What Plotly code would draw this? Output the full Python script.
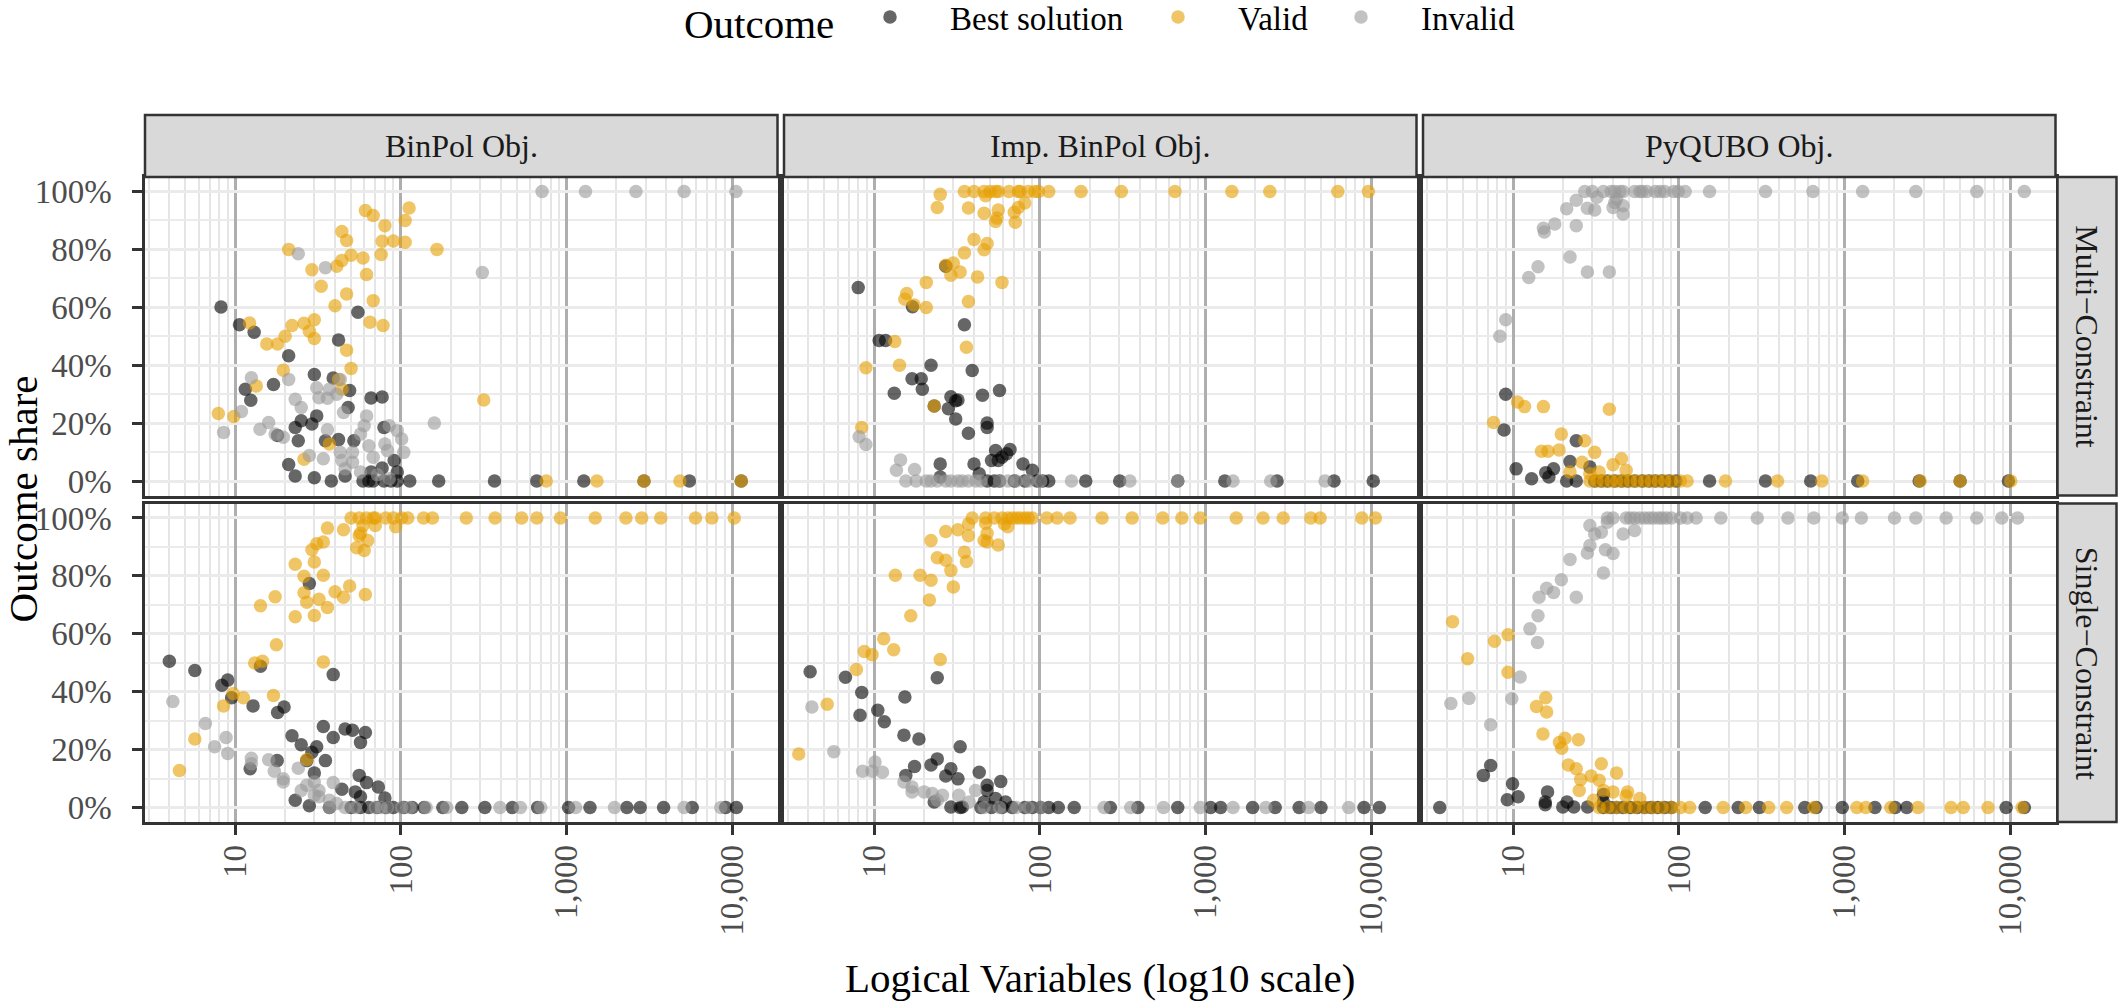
import plotly.graph_objects as go

# ---------------- data ----------------
outcomes = ["Best solution", "Valid", "Invalid"]
objectives = ["BinPol Obj.", "Imp. BinPol Obj.", "PyQUBO Obj."]
constraints = ["Multi−Constraint", "Single−Constraint"]

x_tick_vals = [10, 100, 1000, 10000]
x_tick_text = ["10", "100", "1,000", "10,000"]
x_minor_vals = [2, 3, 4, 5, 6, 7, 8, 9, 20, 30, 40, 50, 60, 70, 80, 90,
                200, 300, 400, 500, 600, 700, 800, 900,
                2000, 3000, 4000, 5000, 6000, 7000, 8000, 9000]
y_tick_vals = [0, 20, 40, 60, 80, 100]
y_tick_text = ["0%", "20%", "40%", "60%", "80%", "100%"]
y_minor_vals = [10, 30, 50, 70, 90]

# BinPol Obj. / Multi-Constraint
binpol_multi_best_x = [8.2, 10.6, 13, 55, 42, 21, 30, 39, 17, 11.5, 49, 12.4, 66, 77, 48, 31, 25, 23, 29, 18,
                       24, 79, 52, 42, 35, 21, 91, 77, 23, 30, 38, 46, 59, 64, 68, 79, 87, 95, 113, 66,
                       95, 169, 367, 660, 1270, 2930, 5510, 11330]
binpol_multi_best_y = [60.1, 54.0, 51.4, 58.3, 48.7, 43.3, 36.8, 35.6, 33.3, 31.7, 31.3, 27.9, 28.7, 29.0, 25.4,
                       22.5, 20.8, 18.5, 19.7, 15.7, 13.9, 18.5, 13.9, 14.3, 13.9, 5.7, 7.1, 4.5, 1.7, 1.1,
                       0, 1.7, 0, 0, 0, 0, 0, 0, 0, 3.1, 3.1, 0, 0, 0, 0, 0, 0, 0]
binpol_multi_valid_x = [61, 68, 112, 80, 106, 44, 47, 77, 90, 106, 21, 165, 50, 59, 76, 44, 41, 29, 62, 33,
                        47, 68, 40, 12.2, 22, 26, 30, 65, 78, 28, 20, 30, 15.5, 18, 47, 50, 19.5, 13.4, 42, 44,
                        316, 7.9, 9.8, 37, 26, 753, 1524, 2930, 4830, 11330]
binpol_multi_valid_y = [93.4, 91.7, 94.3, 88.2, 90.0, 86.2, 83.1, 82.8, 82.9, 82.5, 80.0, 80.0, 78.0, 77.0, 78.2,
                        76.2, 74.2, 73.0, 71.3, 67.3, 64.6, 62.3, 60.5, 54.6, 53.7, 54.5, 55.7, 54.8, 53.7, 51.7,
                        50.0, 49.2, 47.3, 47.3, 45.2, 38.9, 38.3, 32.8, 35.1, 31.7, 28.0, 23.3, 22.3, 12.8, 7.5,
                        0, 0, 0, 0, 0]
binpol_multi_invalid_x = [711, 1300, 2620, 5120, 10520, 310, 24, 35, 159, 8.5, 10.9, 12.5, 21, 31, 37, 43, 32, 36,
                          41, 23, 25, 45, 62, 15.9, 14.1, 17.4, 19.5, 36, 60, 85, 95, 101, 57, 64, 80, 104, 43,
                          51, 34, 28, 44, 51, 68, 83, 57, 72, 85, 46]
binpol_multi_invalid_y = [100, 100, 100, 100, 100, 72.0, 78.5, 73.7, 20.0, 16.8, 24.0, 35.7, 35.1, 32.2, 31.7,
                          35.1, 28.8, 28.6, 30.0, 28.2, 25.4, 23.7, 22.5, 20.2, 17.9, 16.2, 15.1, 17.7, 19.1,
                          19.1, 17.4, 14.5, 16.2, 12.2, 12.8, 9.9, 9.9, 9.9, 7.7, 8.8, 7.1, 6.5, 8.2, 10.5, 3.1,
                          2.2, 0.8, 4.2]

# Imp. BinPol Obj. / Multi-Constraint
impbinpol_multi_best_x = [8.0, 17, 27, 35, 10.7, 11.7, 22, 39, 16.9, 19.2, 19.5, 13.2, 29, 32, 31, 45, 57, 23, 28,
                          31, 48, 48, 37, 54, 66, 63, 51, 56, 59, 79, 90, 25, 40, 43, 25,
                          48, 53, 57, 70, 81, 96, 104, 113, 189, 303, 679, 1306, 2700, 5960, 10280]
impbinpol_multi_best_y = [66.8, 60.2, 74.2, 54.0, 48.5, 48.5, 40.0, 38.2, 35.3, 35.3, 31.7, 30.3, 29.1, 28.0,
                          27.7, 29.6, 31.3, 25.9, 25.0, 21.4, 20.0, 18.5, 16.5, 10.5, 10.9, 9.4, 7.1, 7.1, 8.2,
                          5.9, 3.7, 5.9, 5.9, 2.5, 1.4,
                          0, 0, 0, 0, 0, 0, 0, 0, 0, 0, 0, 0, 0, 0, 0]
impbinpol_multi_valid_x = [25, 35, 40, 46, 50, 54, 56, 65, 74, 76, 85, 93, 98, 113, 177, 310, 653, 1440, 2440,
                           6280, 9610,
                           24, 37, 46, 47, 56, 70, 74, 81, 55, 54, 71, 40, 48, 46, 35, 27, 30, 29, 33, 42,
                           59, 20.6, 15.7, 15.3, 17.4, 20.6, 37, 13.3, 36, 8.9, 14.2, 23, 8.4]
impbinpol_multi_valid_y = [99, 100, 100, 100, 100, 100, 100, 100, 100, 100, 100, 100, 100, 100, 100, 100, 100,
                           100, 100, 100, 100,
                           94.5, 94.3, 92.5, 98.5, 93.6, 92.8, 94.5, 96.0, 90.8, 89.6, 89.4, 83.4, 82.0, 79.9,
                           78.8, 74.5, 75.3, 71.1, 72.2, 70.5, 68.6, 68.6, 64.8, 62.8, 60.8, 59.9, 62.0, 48.2,
                           46.2, 39.1, 40.0, 25.9, 18.5]
impbinpol_multi_invalid_x = [8.1, 8.9, 14.4, 13.6, 17.5,
                             15.5, 17.9, 20.6, 22, 24, 27, 29, 32, 34, 37, 41, 44, 57, 64, 72, 85, 101, 155,
                             349, 679, 1463, 2470, 5260]
impbinpol_multi_invalid_y = [15.3, 12.6, 7.3, 3.7, 4.0,
                             0, 0, 0, 0, 0, 0, 0, 0, 0, 0, 0, 0, 0, 0, 0, 0, 0, 0, 0, 0, 0, 0, 0]

# PyQUBO Obj. / Multi-Constraint
pyqubo_multi_best_x = [9.0, 8.8, 10.4, 12.9, 15.7, 17.5, 16.4, 22, 24, 29, 21, 24,
                       31, 34, 37, 41, 45, 49, 54, 60, 66, 72, 79, 87, 96, 153, 333, 624, 1200, 2820, 4980, 9750]
pyqubo_multi_best_y = [30.0, 17.6, 4.2, 0.8, 2.9, 4.2, 1.4, 6.7, 13.9, 4.8, 0, 0,
                       0, 0, 0, 0, 0, 0, 0, 0, 0, 0, 0, 0, 0, 0, 0, 0, 0, 0, 0, 0]
pyqubo_multi_valid_x = [7.6, 10.6, 11.7, 15.2, 38, 19.5, 27, 14.8, 16.2, 18.9, 31, 45, 26, 40, 22, 29, 33, 48,
                        29, 32, 35, 39, 42, 46, 51, 56, 62, 68, 75, 82, 90, 102, 112, 191, 394, 729, 1285, 2860,
                        4980, 10070]
pyqubo_multi_valid_y = [20.2, 27.3, 25.7, 25.7, 24.8, 16.2, 13.9, 10.3, 10.3, 10.7, 9.9, 7.7, 6.5, 5.6, 3.1, 2.5,
                        3.1, 3.7,
                        0, 0, 0, 0, 0, 0, 0, 0, 0, 0, 0, 0, 0, 0, 0, 0, 0, 0, 0, 0, 0, 0]
pyqubo_multi_invalid_x = [27, 30, 35, 39, 41, 44, 46, 54, 58, 60, 64, 72, 77, 82, 93, 99, 109, 153, 333, 644,
                          1285, 2690, 6280, 12160,
                          32, 42, 41, 46, 21, 24, 28, 31, 40, 46, 15.2, 17.8, 15.4, 24, 22, 14.1, 12.4, 28, 38,
                          9.0, 8.3]
pyqubo_multi_invalid_y = [100, 100, 100, 100, 100, 100, 100, 100, 100, 100, 100, 100, 100, 100, 100, 100, 100,
                          100, 100, 100, 100, 100, 100, 100,
                          98.0, 97.4, 96.2, 95.1, 94.0, 97.0, 94.2, 93.6, 94.5, 92.2, 87.3, 88.8, 86.0, 88.2,
                          77.4, 74.0, 70.3, 72.2, 72.2, 55.7, 50.0]

# BinPol Obj. / Single-Constraint
binpol_single_best_x = [4.0, 5.7, 9.0, 8.3, 9.5, 14.2, 39, 28, 12.8, 18, 19.7, 34, 46, 51, 61, 57, 22, 39, 25,
                        31, 29, 17.9, 27, 35, 12.3, 30, 56, 62, 73, 44, 53, 57, 80, 23, 28,
                        37, 50, 57, 64, 72, 81, 90, 104, 117, 138, 179, 233, 321, 470, 668, 1028, 1384, 2310,
                        2780, 3850, 5730, 9120, 10590]
binpol_single_best_y = [50.5, 47.3, 44.0, 42.2, 37.9, 48.8, 45.9, 77.4, 35.1, 32.8, 34.7, 28.0, 27.1, 26.7, 25.9,
                        22.5, 24.8, 24.2, 21.7, 21.0, 19.1, 16.2, 16.2, 16.2, 13.4, 11.9, 11.1, 8.6, 7.1, 6.3,
                        5.4, 3.7, 3.3, 2.5, 0.6,
                        0, 0, 0, 0, 0, 0, 0, 0, 0, 0, 0, 0, 0, 0, 0, 0, 0, 0, 0, 0, 0, 0, 0]
binpol_single_valid_x = [50, 56, 62, 68, 70, 81, 90, 101, 110, 137, 155, 248, 370, 535, 661, 918, 1489, 2280,
                         2840, 3700, 6000, 7530, 10280,
                         36, 45, 59, 70, 93, 57, 56, 63, 34, 31, 29, 54, 60, 23, 30, 26, 34, 26, 40, 49,
                         61, 17.4, 14.2, 27, 32, 45, 36, 23, 30, 17.7, 14.6, 13.1, 34, 9.7, 11.2, 17, 8.5, 5.7,
                         4.6, 27]
binpol_single_valid_y = [100, 100, 100, 100, 100, 100, 100, 100, 100, 100, 100, 100, 100, 100, 100, 100, 100,
                         100, 100, 100, 100, 100, 100,
                         96.5, 95.9, 97.4, 97.4, 97.0, 94.7, 93.9, 92.2, 91.7, 91.1, 89.0, 89.7, 88.8, 84.0,
                         84.8, 79.9, 80.2, 74.2, 74.5, 76.5, 73.6, 72.8, 69.7, 70.9, 71.9, 72.6, 69.1, 65.9,
                         66.3, 56.2, 50.5, 49.9, 50.3, 39.4, 37.9, 38.7, 35.1, 23.7, 12.8, 16.6]
binpol_single_invalid_x = [4.2, 6.6, 8.8, 7.5, 9.0, 12.5, 12.5, 15.9, 17.2, 19.5, 19.5, 24, 39, 25, 27, 30, 32,
                           30, 32, 37, 41,
                           37, 46, 53, 70, 76, 83, 101, 113, 142, 189, 396, 526, 698, 1133, 1945, 5120, 8530]
binpol_single_invalid_y = [36.6, 29.0, 24.2, 21.0, 18.7, 17.0, 15.1, 16.5, 12.5, 9.9, 8.8, 13.6, 8.6, 5.9, 7.7,
                           8.8, 5.9, 4.2, 3.7, 2.5, 1.4,
                           0, 0, 0, 0, 0, 0, 0, 0, 0, 0, 0, 0, 0, 0, 0, 0, 0]

# Imp. BinPol Obj. / Single-Constraint
impbinpol_single_best_x = [4.1, 6.7, 8.4, 8.2, 10.5, 11.5, 15.3, 24, 15.1, 18.6, 33, 24, 22, 17.5, 15.5, 29, 27,
                           32, 43, 58, 48, 48, 23, 29, 34, 46, 54, 62,
                           33, 44, 51, 59, 68, 81, 90, 101, 113, 129, 161, 266, 390, 679, 1072, 1233, 1922, 2630,
                           3670, 4970, 9040, 11190]
impbinpol_single_best_y = [46.9, 45.0, 39.7, 31.9, 33.6, 29.6, 38.2, 44.8, 25.0, 23.7, 21.0, 16.8, 14.7, 14.2,
                           11.1, 13.4, 10.9, 9.9, 12.2, 9.0, 7.7, 5.9, 1.9, 0.2, 0.2, 1.9, 3.1, 1.9,
                           0, 0, 0, 0, 0, 0, 0, 0, 0, 0, 0, 0, 0, 0, 0, 0, 0, 0, 0, 0, 0, 0]
impbinpol_single_valid_x = [39, 47, 53, 59, 64, 68, 72, 76, 81, 85, 90, 110, 127, 152, 237, 360, 551, 719, 929,
                            1531, 2220, 2940, 4310, 4910, 8770, 10590,
                            37, 47, 61, 64, 32, 27, 22, 37, 48, 46, 56, 48, 35, 36, 24, 27, 29, 13.4, 18.9, 22,
                            30, 21.5, 16.6, 11.4, 8.7, 9.7, 13.1, 25, 7.8, 5.2, 3.5]
impbinpol_single_valid_y = [100, 100, 100, 100, 100, 100, 100, 100, 100, 100, 100, 100, 100, 100, 100, 100, 100,
                            100, 100, 100, 100, 100, 100, 100, 100, 100,
                            97.9, 98.2, 97.9, 97.0, 95.9, 95.3, 92.2, 93.9, 94.7, 92.2, 90.7, 91.7, 88.2, 85.0,
                            86.3, 85.4, 81.9, 80.2, 80.2, 78.5, 76.2, 71.7, 66.2, 58.3, 53.9, 52.8, 54.5, 51.1,
                            47.7, 35.7, 18.5]
impbinpol_single_invalid_x = [4.2, 5.7, 8.5, 10.1, 9.7, 11.2, 15.1, 16.9, 16.9, 20, 22.4, 25.8, 32.4, 40.8, 37.4,
                              24,
                              46, 57, 72, 85, 101, 244, 353, 557, 929, 1463, 2310, 4190, 7310]
impbinpol_single_invalid_y = [34.7, 19.3, 12.5, 15.7, 12.5, 12.2, 8.8, 7.1, 5.4, 5.4, 4.8, 4.2, 4.2, 5.9, 1.9,
                              2.5,
                              0, 0, 0, 0, 0, 0, 0, 0, 0, 0, 0, 0, 0]

# PyQUBO Obj. / Single-Constraint
pyqubo_single_best_x = [3.6, 6.6, 7.3, 9.9, 9.2, 10.7, 16.1, 15.6, 15.6, 19.9, 21.1, 23.2, 28.1, 35, 35,
                        35, 38.5, 42, 46, 51, 56, 62, 68, 74.5, 82, 90, 144, 228, 306, 575, 673, 968, 1524,
                        2020, 2370, 9440, 12160]
pyqubo_single_best_y = [0, 11.1, 14.5, 8.2, 2.7, 3.7, 5.4, 1.9, 1.0, 0.2, 1.9, 0.2, 0.2, 4.5, 1.9,
                        0, 0, 0, 0, 0, 0, 0, 0, 0, 0, 0, 0, 0, 0, 0, 0, 0, 0, 0, 0, 0, 0]
pyqubo_single_valid_x = [4.3, 5.3, 7.7, 9.3, 9.3, 15.7, 13.8, 15.9, 15.1, 19, 20.5, 24.7, 19.6, 21.5, 24, 34, 42,
                         25.5, 29.5, 33, 25, 35, 40, 49, 30.5, 48, 58,
                         33, 37, 42, 48, 54, 62, 70, 79, 90, 102, 116, 185, 253, 348, 447, 652, 1185, 1343,
                         1900, 2770, 4390, 5200, 7340, 11780]
pyqubo_single_valid_y = [64.2, 51.4, 57.4, 59.7, 46.7, 37.9, 34.9, 33.0, 25.4, 22.5, 23.9, 23.4, 20.5, 14.7,
                         13.4, 15.1, 11.9, 9.7, 10.9, 9.4, 5.9, 5.9, 5.4, 5.4, 2.5, 4.0, 3.1,
                         0, 0, 0, 0, 0, 0, 0, 0, 0, 0, 0, 0, 0, 0, 0, 0, 0, 0, 0, 0, 0, 0, 0, 0]
pyqubo_single_invalid_x = [37, 40, 48, 51, 54, 58, 62, 66, 70, 75, 79, 84, 90, 102, 112, 127, 179, 297, 455, 652,
                           968, 1262, 2000, 2690, 4100, 6280, 8880, 11070,
                           29, 37, 31, 34, 46, 54, 29, 36, 40, 28, 22, 35, 19.5, 15.9, 17.5, 14.3, 24, 14.1,
                           12.6, 14, 11, 4.2, 5.4, 9.8, 7.3]
pyqubo_single_invalid_y = [100, 100, 100, 100, 100, 100, 100, 100, 100, 100, 100, 100, 100, 100, 100, 100, 100,
                           100, 100, 100, 100, 100, 100, 100, 100, 100, 100, 100,
                           97.4, 98.5, 94.5, 95.1, 94.5, 95.7, 90.5, 89.0, 87.7, 87.9, 85.7, 81.0, 78.7, 75.7,
                           74.3, 72.6, 72.6, 66.2, 61.7, 57.0, 45.1, 35.9, 37.7, 37.6, 28.6]

panel_series = [
    [(binpol_multi_best_x, binpol_multi_best_y), (binpol_multi_valid_x, binpol_multi_valid_y),
     (binpol_multi_invalid_x, binpol_multi_invalid_y)],
    [(impbinpol_multi_best_x, impbinpol_multi_best_y), (impbinpol_multi_valid_x, impbinpol_multi_valid_y),
     (impbinpol_multi_invalid_x, impbinpol_multi_invalid_y)],
    [(pyqubo_multi_best_x, pyqubo_multi_best_y), (pyqubo_multi_valid_x, pyqubo_multi_valid_y),
     (pyqubo_multi_invalid_x, pyqubo_multi_invalid_y)],
    [(binpol_single_best_x, binpol_single_best_y), (binpol_single_valid_x, binpol_single_valid_y),
     (binpol_single_invalid_x, binpol_single_invalid_y)],
    [(impbinpol_single_best_x, impbinpol_single_best_y), (impbinpol_single_valid_x, impbinpol_single_valid_y),
     (impbinpol_single_invalid_x, impbinpol_single_invalid_y)],
    [(pyqubo_single_best_x, pyqubo_single_best_y), (pyqubo_single_valid_x, pyqubo_single_valid_y),
     (pyqubo_single_invalid_x, pyqubo_single_invalid_y)],
]

# ---------------- style / layout ----------------
W, H = 2118, 1004
FONT = "Liberation Serif, Times New Roman, serif"
SMALL = 33
BIG = 41
colors = ["#000000", "#E69F00", "#999999"]
COLS = [(145, 777.5), (784, 1416.5), (1423, 2055.5)]
ROWS = [(177, 495.5), (503.5, 822)]
TOP_STRIP = (115, 177)
RIGHT_STRIP = (2057.5, 2116.5)
LEGEND_MARKER_X = [894, 1182, 1365]
LEGEND_NAMES = ["legend", "legend2", "legend3"]


def fx(p):
    return p / W


def fy(p):
    return 1 - p / H


fig = go.Figure()
for p in range(6):
    xn = "x" if p == 0 else f"x{p + 1}"
    yn = "y" if p == 0 else f"y{p + 1}"
    for k, (xs, ys) in enumerate(panel_series[p]):
        fig.add_trace(go.Scatter(
            x=xs, y=ys, mode="markers", name=outcomes[k], legendgroup=outcomes[k],
            legend=LEGEND_NAMES[k], showlegend=(p == 0), xaxis=xn, yaxis=yn, hoverinfo="skip",
            marker=dict(size=13.5, color=colors[k], opacity=0.6, line=dict(width=0)),
        ))

layout = dict(
    width=W, height=H, autosize=False,
    margin=dict(l=0, r=0, t=0, b=0, pad=0, autoexpand=False),
    paper_bgcolor="white", plot_bgcolor="white",
    font=dict(family=FONT, color="#000000"),
    shapes=[], annotations=[],
)
for k in range(3):
    layout[LEGEND_NAMES[k]] = dict(
        orientation="h", x=fx(LEGEND_MARKER_X[k] - 64), xanchor="left", y=fy(17), yanchor="middle",
        font=dict(family=FONT, size=SMALL, color="#000000"),
        itemwidth=110, itemsizing="trace", bgcolor="rgba(0,0,0,0)", borderwidth=0,
    )

for p in range(6):
    r, c = divmod(p, 3)
    xk = "xaxis" if p == 0 else f"xaxis{p + 1}"
    yk = "yaxis" if p == 0 else f"yaxis{p + 1}"
    xn = "x" if p == 0 else f"x{p + 1}"
    yn = "y" if p == 0 else f"y{p + 1}"
    layout[xk] = dict(
        type="log", range=[0.455, 4.273], domain=[fx(COLS[c][0]), fx(COLS[c][1])], anchor=yn,
        tickmode="array", tickvals=x_tick_vals, ticktext=x_tick_text, tickangle=-90,
        showgrid=True, gridcolor="#AEAEAE", gridwidth=3,
        minor=dict(tickmode="array", tickvals=x_minor_vals, showgrid=True, gridcolor="#E5E5E5",
                   gridwidth=2, ticks=""),
        zeroline=False, showline=True, mirror=True, linecolor="#333333", linewidth=2.5,
        ticks="outside" if r == 1 else "", ticklen=10, tickwidth=2.5, tickcolor="#333333",
        showticklabels=(r == 1), ticklabelstandoff=-3,
        tickfont=dict(family=FONT, size=SMALL, color="#4D4D4D"),
    )
    layout[yk] = dict(
        range=[-5, 105], domain=[fy(ROWS[r][1]), fy(ROWS[r][0])], anchor=xn,
        tickmode="array", tickvals=y_tick_vals, ticktext=y_tick_text,
        showgrid=True, gridcolor="#EBEBEB", gridwidth=3,
        minor=dict(tickmode="array", tickvals=y_minor_vals, showgrid=True, gridcolor="#EBEBEB",
                   gridwidth=1.5, ticks=""),
        zeroline=False, showline=True, mirror=True, linecolor="#333333", linewidth=2.5,
        ticks="outside" if c == 0 else "", ticklen=10, tickwidth=2.5, tickcolor="#333333",
        showticklabels=(c == 0), ticklabelstandoff=14,
        tickfont=dict(family=FONT, size=SMALL, color="#4D4D4D"),
    )

# facet strips
for c in range(3):
    layout["shapes"].append(dict(
        type="rect", xref="paper", yref="paper",
        x0=fx(COLS[c][0]), x1=fx(COLS[c][1]), y0=fy(TOP_STRIP[1]), y1=fy(TOP_STRIP[0]),
        fillcolor="#D9D9D9", line=dict(color="#333333", width=2.5), layer="above"))
    layout["annotations"].append(dict(
        xref="paper", yref="paper", x=fx((COLS[c][0] + COLS[c][1]) / 2),
        y=fy((TOP_STRIP[0] + TOP_STRIP[1]) / 2), text=objectives[c], showarrow=False,
        xanchor="center", yanchor="middle", font=dict(family=FONT, size=32, color="#1A1A1A")))
for r in range(2):
    layout["shapes"].append(dict(
        type="rect", xref="paper", yref="paper",
        x0=fx(RIGHT_STRIP[0]), x1=fx(RIGHT_STRIP[1]), y0=fy(ROWS[r][1]), y1=fy(ROWS[r][0]),
        fillcolor="#D9D9D9", line=dict(color="#333333", width=2.5), layer="above"))
    layout["annotations"].append(dict(
        xref="paper", yref="paper", x=fx((RIGHT_STRIP[0] + RIGHT_STRIP[1]) / 2),
        y=fy((ROWS[r][0] + ROWS[r][1]) / 2), text=constraints[r], showarrow=False, textangle=90,
        xanchor="center", yanchor="middle", font=dict(family=FONT, size=32, color="#1A1A1A")))

# legend title
layout["annotations"].append(dict(
    xref="paper", yref="paper", x=fx(683), y=1, text="Outcome", showarrow=False, borderpad=0,
    xanchor="left", yanchor="top", font=dict(family=FONT, size=BIG, color="#000000")))

# axis titles
layout["annotations"].append(dict(
    xref="paper", yref="paper", x=fx((COLS[0][0] + COLS[2][1]) / 2), y=fy(978),
    text="Logical Variables (log10 scale)", showarrow=False, xanchor="center", yanchor="middle",
    font=dict(family=FONT, size=BIG, color="#000000")))
layout["annotations"].append(dict(
    xref="paper", yref="paper", x=fx(22), y=fy((ROWS[0][0] + ROWS[1][1]) / 2),
    text="Outcome share", showarrow=False, textangle=-90, xanchor="center", yanchor="middle",
    font=dict(family=FONT, size=BIG, color="#000000")))

fig.update_layout(**layout)
fig.write_html("out.html", config={"displayModeBar": False})
